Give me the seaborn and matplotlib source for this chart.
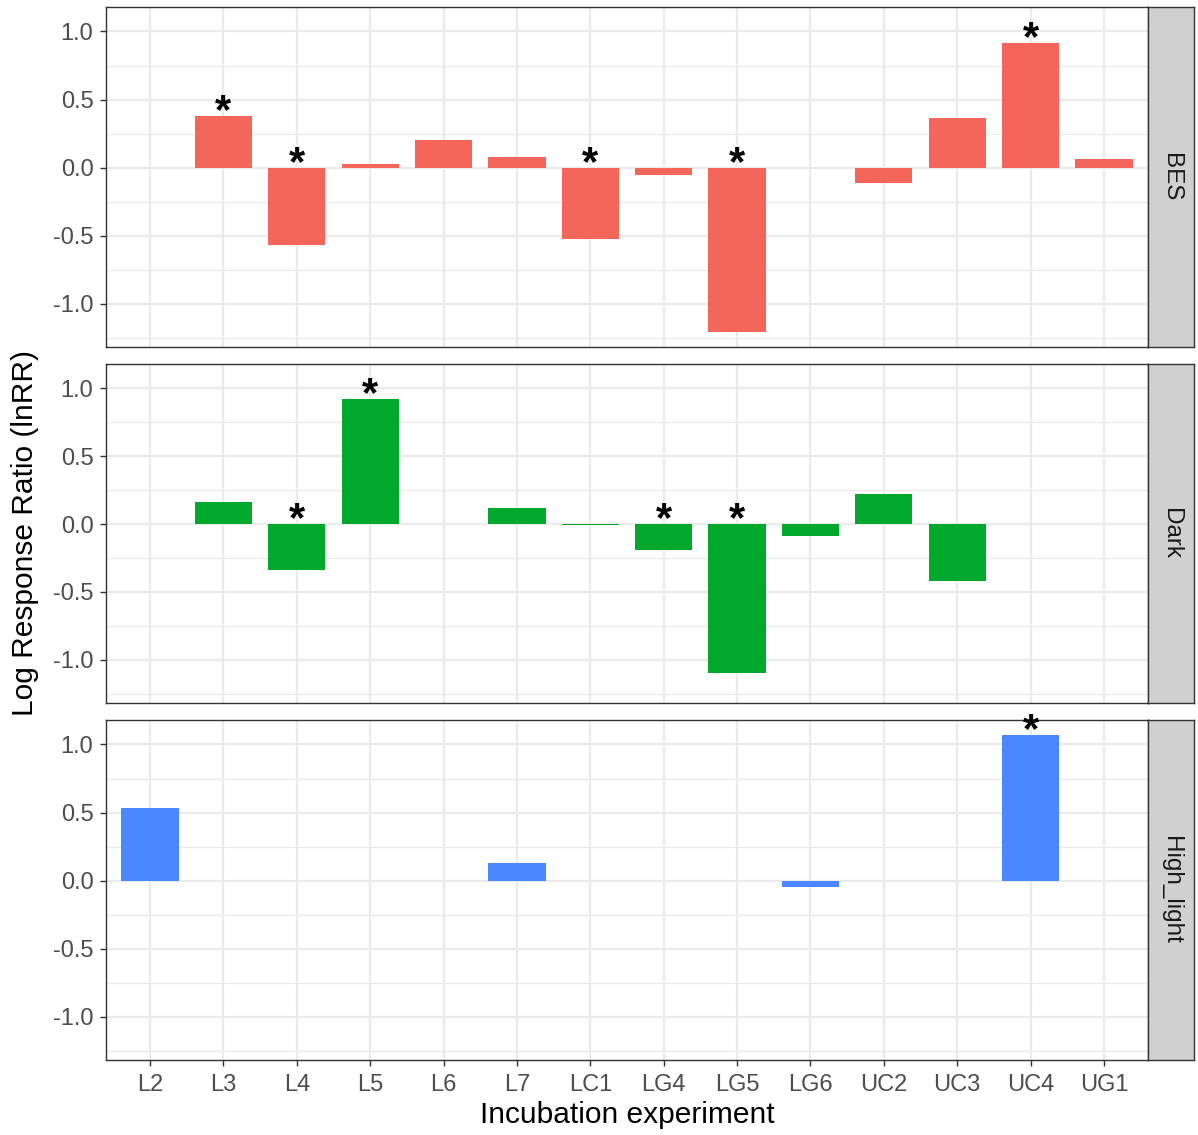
import numpy as np
import pandas as pd
import matplotlib
matplotlib.use("Agg")
import matplotlib.pyplot as plt
import seaborn as sns

sns.set_theme(style="white")
plt.rcParams["font.family"] = ["Liberation Sans", "DejaVu Sans"]

# Incubation experiments (x categories)
experiments = ["L2", "L3", "L4", "L5", "L6", "L7", "LC1", "LG4", "LG5", "LG6",
               "UC2", "UC3", "UC4", "UG1"]

# Log response ratios per treatment (NaN = not measured)
bes_lnrr = [np.nan, 0.38, -0.565, 0.03, 0.205, 0.075, -0.525, -0.055, -1.205,
            -0.005, -0.11, 0.365, 0.915, 0.06]
dark_lnrr = [np.nan, 0.16, -0.34, 0.925, np.nan, 0.12, -0.005, -0.19, -1.095,
             -0.085, 0.22, -0.42, np.nan, np.nan]
high_light_lnrr = [0.53, np.nan, np.nan, np.nan, np.nan, 0.13, np.nan, np.nan,
                   np.nan, -0.045, np.nan, np.nan, 1.07, np.nan]

# Significance flags
bes_sig = ["L3", "L4", "LC1", "LG5", "UC4"]
dark_sig = ["L4", "L5", "LG4", "LG5"]
high_light_sig = ["UC4"]

treatments = ["BES", "Dark", "High_light"]
colors = {"BES": "#F4655A", "Dark": "#00A82B", "High_light": "#4B87FF"}

df = pd.concat([
    pd.DataFrame({"experiment": experiments, "lnRR": bes_lnrr, "treatment": "BES"}),
    pd.DataFrame({"experiment": experiments, "lnRR": dark_lnrr, "treatment": "Dark"}),
    pd.DataFrame({"experiment": experiments, "lnRR": high_light_lnrr, "treatment": "High_light"}),
], ignore_index=True)
sig = {"BES": bes_sig, "Dark": dark_sig, "High_light": high_light_sig}

W, H = 1198, 1135
fig = plt.figure(figsize=(W / 100, H / 100), dpi=100)

panel_left, panel_right = 106, 1148
strip_right = 1194
panel_rows = [(7, 347), (364, 703), (720, 1060)]

grid_col = "#EBEBEB"
frame_col = "#333333"
tick_size = 17

for k, (trt, (top, bot)) in enumerate(zip(treatments, panel_rows)):
    rect = [panel_left / W, 1 - bot / H, (panel_right - panel_left) / W, (bot - top) / H]
    ax = fig.add_axes(rect)
    sub = df[df["treatment"] == trt]
    sns.barplot(data=sub, x="experiment", y="lnRR", order=experiments,
                color=colors[trt], saturation=1, width=0.78, linewidth=0,
                errorbar=None, ax=ax)

    # significance asterisks
    for i, e in enumerate(experiments):
        if e in sig[trt]:
            v = sub.loc[sub["experiment"] == e, "lnRR"].values[0]
            ax.annotate("*", xy=(i, max(v, 0)), xytext=(0, -5.2),
                        textcoords="offset points", ha="center", va="baseline",
                        fontsize=30, fontweight="bold", color="black", zorder=5)

    ax.set_xlim(-0.6, len(experiments) - 0.4)
    ax.set_ylim(-1.318, 1.18)
    ax.set_yticks([-1.0, -0.5, 0.0, 0.5, 1.0])
    ax.set_yticklabels(["-1.0", "-0.5", "0.0", "0.5", "1.0"])
    ax.set_yticks([-1.25, -0.75, -0.25, 0.25, 0.75], minor=True)
    ax.set_axisbelow(True)
    ax.grid(which="major", color=grid_col, linewidth=1.6)
    ax.grid(which="minor", axis="y", color=grid_col, linewidth=0.9)
    ax.set_xlabel("")
    ax.set_ylabel("")
    for s in ax.spines.values():
        s.set_color(frame_col)
        s.set_linewidth(1.0)
    ax.tick_params(axis="y", which="major", length=4, width=1.0, color=frame_col,
                   labelsize=tick_size, labelcolor="#4D4D4D", pad=5, left=True)
    ax.tick_params(axis="y", which="minor", length=0)
    if k < 2:
        ax.tick_params(axis="x", bottom=False, labelbottom=False)
    else:
        ax.tick_params(axis="x", length=4, width=1.0, color=frame_col, bottom=True,
                       labelsize=tick_size, labelcolor="#4D4D4D", pad=6)

    # facet strip on the right
    sax = fig.add_axes([panel_right / W, 1 - bot / H, (strip_right - panel_right) / W,
                        (bot - top) / H])
    sax.set_facecolor("#D0D0D0")
    sax.set_xticks([])
    sax.set_yticks([])
    for s in sax.spines.values():
        s.set_color(frame_col)
        s.set_linewidth(1.0)
    sax.text(0.5, 0.5, trt, rotation=-90, ha="center", va="center",
             fontsize=17.5, color="#1A1A1A", transform=sax.transAxes)

fig.text(25 / W, 1 - 533 / H, "Log Response Ratio (lnRR)", rotation=90,
         ha="center", va="center", fontsize=21.5, color="black")
fig.text((panel_left + panel_right) / 2 / W, 1 - 1115 / H, "Incubation experiment",
         ha="center", va="center", fontsize=21.5, color="black")

fig.savefig("out.png", dpi=100)
